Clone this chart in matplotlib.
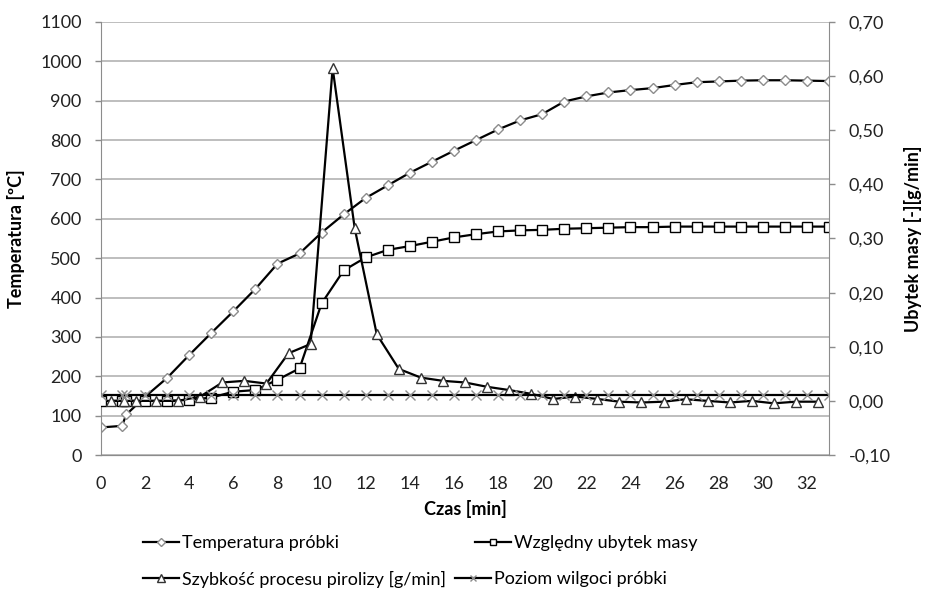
import numpy as np
import matplotlib
matplotlib.use("Agg")
import matplotlib.pyplot as plt
from matplotlib.ticker import FuncFormatter

plt.rcParams['font.family'] = ['Lato', 'DejaVu Sans']

# measurement times [min]
czas = [0, 0.95, 1.15] + list(range(2, 34))

# temperatura probki [C]
temperatura = [70, 74, 103, 148, 196, 254, 310, 365, 422, 486, 512, 565, 611,
               653, 685, 717, 745, 773, 800, 827, 850, 866, 898, 911, 921, 927,
               932, 940, 947, 949, 951, 952, 952, 951, 950]

# wzgledny ubytek masy [-]
ubytek = [0.0, 0.0, 0.0, 0.0, 0.0, 0.002, 0.006, 0.017, 0.020, 0.039, 0.060,
          0.180, 0.241, 0.265, 0.279, 0.286, 0.294, 0.302, 0.308, 0.313, 0.315,
          0.316, 0.318, 0.319, 0.320, 0.321, 0.321, 0.322, 0.322, 0.322, 0.322,
          0.322, 0.322, 0.322, 0.322]

# szybkosc procesu pirolizy [g/min], at mid points between measurements
czas_sr = [0.475, 1.05, 1.575] + [t + 0.5 for t in range(2, 33)]
szybkosc = [0.0, 0.0, 0.0, 0.0, 0.0, 0.008, 0.034, 0.037, 0.032, 0.088, 0.105,
            0.615, 0.319, 0.123, 0.059, 0.043, 0.037, 0.034, 0.026, 0.020,
            0.013, 0.0035, 0.008, 0.0035, -0.0015, -0.003, -0.0015, 0.003,
            0.0, -0.003, 0.0, -0.0045, -0.0015, -0.0015]

# poziom wilgoci probki [-]
wilgoc = [0.01] * len(czas)

grey = '#8c8c8c'

fig = plt.figure(figsize=(9.27, 6.02), dpi=100)
ax = fig.add_axes([101 / 927, 1 - 455 / 602, (829 - 101) / 927, (455 - 22) / 602])
ax2 = ax.twinx()

l1, = ax.plot(czas, temperatura, color='black', lw=1.6, marker='D', ms=5.5,
              mfc='white', mec=grey, mew=1.0, label='Temperatura próbki')
l2, = ax2.plot(czas, ubytek, color='black', lw=1.6, marker='s', ms=7,
               mfc='white', mec='black', mew=1.0, label='Względny ubytek masy')
l3, = ax2.plot(czas_sr, szybkosc, color='black', lw=1.6, marker='^', ms=7.5,
               mfc='white', mec='#333333', mew=1.0,
               label='Szybkość procesu pirolizy [g/min]')
l4, = ax2.plot(czas, wilgoc, color='black', lw=1.6, marker='x', ms=7,
               mec=grey, mew=1.0, label='Poziom wilgoci próbki')

ax.set_xlim(0, 33)
ax.set_ylim(0, 1100)
ax.set_xticks(np.arange(0, 33, 2))
ax.set_yticks(np.arange(0, 1101, 100))
ax2.set_ylim(-0.1, 0.7)
ax2.set_yticks(np.arange(-0.1, 0.71, 0.1))
ax2.yaxis.set_major_formatter(FuncFormatter(lambda v, p: f'{v:.2f}'.replace('.', ',').replace('-0,00', '0,00')))

ax.grid(axis='y', color='#b3b3b3', lw=1.2)
ax.set_axisbelow(True)
for a in (ax, ax2):
    a.spines['top'].set_visible(False)
    a.spines['left'].set_color(grey)
    a.spines['right'].set_color(grey)
    a.spines['bottom'].set_color(grey)
    a.tick_params(colors=grey, labelcolor='#222222', labelsize=13, length=4, width=1, pad=10)
ax.tick_params(axis='x', length=0, pad=15)
ax.spines['right'].set_visible(False)
ax2.spines['left'].set_visible(False)

ax.set_xlabel('Czas [min]', fontsize=13, fontweight='bold', labelpad=6)
ax.set_ylabel('Temperatura [ºC]', fontsize=13, fontweight='bold', labelpad=11)
ax2.set_ylabel('Ubytek masy [-][g/min]', fontsize=13, fontweight='bold', labelpad=10)

# legend entries placed one by one, like the spreadsheet legend
leg_kw = dict(frameon=False, handlelength=2.0, handletextpad=0.15,
              loc='center left', borderaxespad=0, borderpad=0, markerscale=0.7,
              prop={'family': ['Lato', 'DejaVu Sans'], 'size': 13})
pozycje = [(143, 543), (475, 543), (143, 579), (455, 579)]
for linia, (px, py) in zip([l1, l2, l3, l4], pozycje):
    fig.legend([linia], [linia.get_label()],
               bbox_to_anchor=(px / 927, 1 - py / 602), **leg_kw)

fig.savefig('out.png', dpi=100)
